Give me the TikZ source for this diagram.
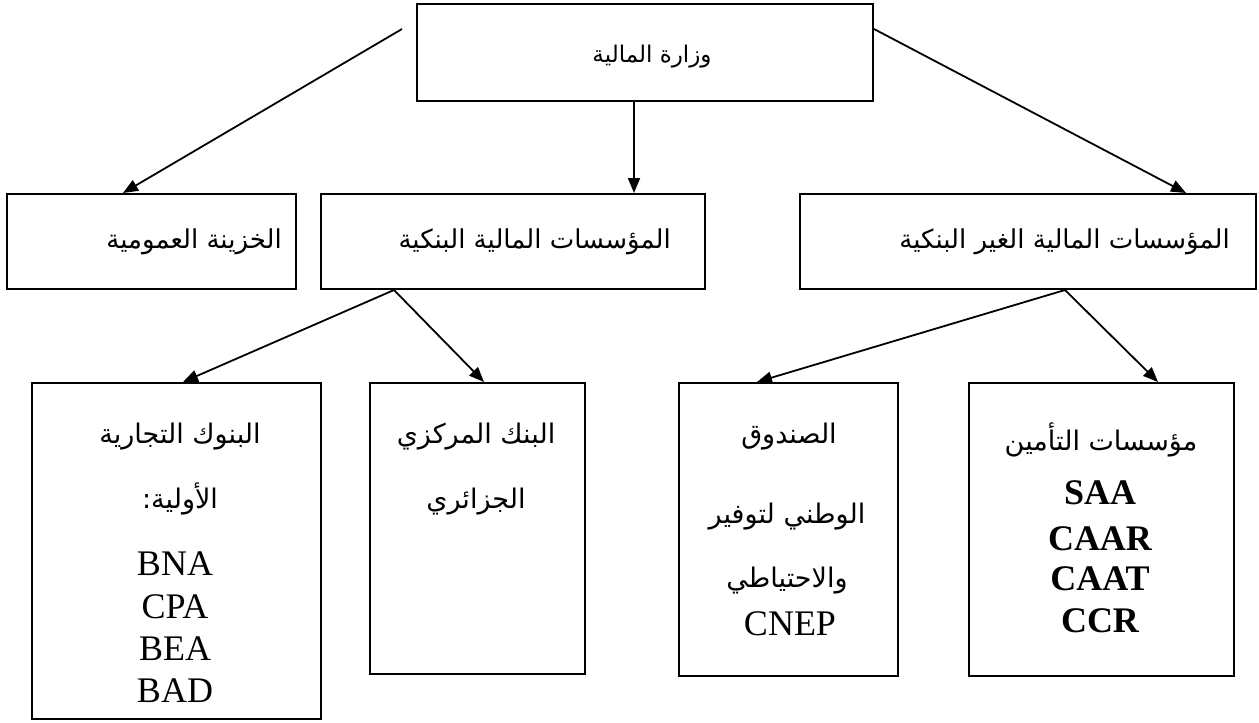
\documentclass[tikz,border=0pt]{standalone}
\usepackage{fontspec}
\setmainfont{Liberation Serif}
\newfontfamily\arabicfont[Script=Arabic]{DejaVu Sans}
\TeXXeTstate=1
\usetikzlibrary{arrows.meta}
\newcommand{\artext}[1]{{\arabicfont\beginR #1\endR}}
\begin{document}
\begin{tikzpicture}[x=1pt,y=-1pt,
  box/.style={draw,line width=2pt,inner sep=0pt,anchor=north west},
  arr/.style={line width=1.8pt,-{Triangle[length=15pt,width=12pt]}},
  artop/.style={font=\arabicfont\fontsize{23}{27}\selectfont,inner sep=0pt},
  armid/.style={font=\arabicfont\fontsize{26}{30}\selectfont,inner sep=0pt},
  arlow/.style={font=\arabicfont\fontsize{27}{31}\selectfont,inner sep=0pt},
  lat/.style={font=\fontsize{36}{40}\selectfont,inner sep=0pt,anchor=base},
  latb/.style={font=\fontsize{36}{40}\selectfont\bfseries,inner sep=0pt,anchor=base},
]
\useasboundingbox (0,0) rectangle (1259,723);
% boxes
\node[box,minimum width=456pt,minimum height=97pt] (min) at (416,3) {};
\node[box,minimum width=289pt,minimum height=95pt] (treas) at (6,193) {};
\node[box,minimum width=384pt,minimum height=95pt] (bank) at (320,193) {};
\node[box,minimum width=456pt,minimum height=95pt] (nonbank) at (799,193) {};
\node[box,minimum width=289pt,minimum height=336pt] (comm) at (31,382) {};
\node[box,minimum width=215pt,minimum height=291pt] (central) at (369,382) {};
\node[box,minimum width=219pt,minimum height=293pt] (cnep) at (678,382) {};
\node[box,minimum width=265pt,minimum height=293pt] (ins) at (968,382) {};
% connectors
\coordinate (minL) at ([xshift=-14pt,yshift=23.5pt]min.west);
\draw[arr] (minL) -- ([xshift=117pt]treas.north west);
\draw[arr] ([xshift=-11pt]min.south) -- ([xshift=-11pt]min.south |- bank.north);
\draw[arr] ([yshift=23.5pt]min.east) -- ([xshift=-71pt]nonbank.north east);
\draw[arr] ([xshift=74pt]bank.south west) -- ([xshift=152pt]comm.north west);
\draw[arr] ([xshift=74pt]bank.south west) -- ([xshift=115pt]central.north west);
\draw[arr] ([xshift=266pt]nonbank.south west) -- ([xshift=79pt]cnep.north west);
\draw[arr] ([xshift=266pt]nonbank.south west) -- ([xshift=190pt]ins.north west);
% texts
\node[artop,anchor=base] (minT) at (652,62) {\artext{وزارة المالية}};
\node[armid,anchor=base east] (treasT) at (282,248) {\artext{الخزينة العمومية}};
\node[armid,anchor=base east] (bankT) at (671,248) {\artext{المؤسسات المالية  البنكية}};
\node[armid,anchor=base east] (nonbankT) at (1230,248) {\artext{المؤسسات المالية الغير البنكية}};
\node[arlow,anchor=base] (commT1) at (180,443) {\artext{البنوك التجارية}};
\node[arlow,anchor=base] (commT2) at (180,508) {\artext{الأولية:}};
\node[lat] (commT3) at (175,575) {BNA};
\node[lat] (commT4) at (175,618) {CPA};
\node[lat] (commT5) at (175,660) {BEA};
\node[lat] (commT6) at (175,702) {BAD};
\node[arlow,anchor=base] (centT1) at (476,443) {\artext{البنك المركزي}};
\node[arlow,anchor=base] (centT2) at (476,508) {\artext{الجزائري}};
\node[arlow,anchor=base] (cnepT1) at (789,443) {\artext{الصندوق}};
\node[arlow,anchor=base] (cnepT2) at (787,523) {\artext{الوطني لتوفير}};
\node[arlow,anchor=base] (cnepT3) at (787,587) {\artext{والاحتياطي}};
\node[lat] (cnepT4) at (790,635) {CNEP};
\node[arlow,anchor=base] (insT1) at (1101,450) {\artext{مؤسسات التأمين}};
\node[latb] (insT2) at (1100,504) {SAA};
\node[latb] (insT3) at (1100,550) {CAAR};
\node[latb] (insT4) at (1100,590) {CAAT};
\node[latb] (insT5) at (1100,632) {CCR};
\end{tikzpicture}
\end{document}
